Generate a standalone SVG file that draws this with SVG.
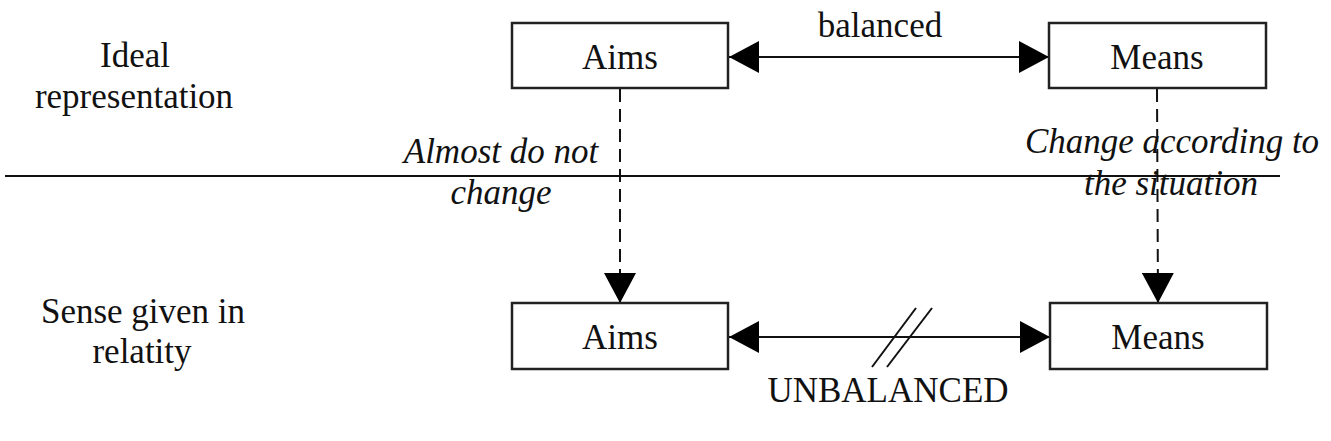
<svg xmlns="http://www.w3.org/2000/svg" width="1331" height="441" viewBox="0 0 1331 441">
<style>
.box{fill:#fff;stroke:#222;stroke-width:2.5}
.t{font-family:"Liberation Serif","Times New Roman",serif;font-size:35px;fill:#111;text-anchor:middle}
.i{font-style:italic}
.ln{stroke:#111;stroke-width:2;fill:none}
.dash{stroke:#111;stroke-width:2;fill:none;stroke-dasharray:13 7}
</style>
<defs>
<marker id="ah" markerUnits="userSpaceOnUse" markerWidth="30" markerHeight="32" refX="30" refY="16" orient="auto-start-reverse" viewBox="0 0 30 32">
<path d="M0,0 L30,16 L0,32 Z" fill="#000"/>
</marker>
</defs>
<rect width="1331" height="441" fill="#fff"/>
<g id="labels">
<text class="t" x="135" y="67">Ideal</text>
<text class="t" x="134" y="108">representation</text>
<text class="t" x="143" y="323">Sense given in</text>
<text class="t" x="142" y="363">relatity</text>
<text class="t i" x="501" y="163">Almost do not</text>
<text class="t i" x="501" y="204">change</text>
<text class="t i" x="1172" y="153">Change according to</text>
<text class="t i" x="1171" y="195">the situation</text>
<text class="t" x="880" y="37">balanced</text>
<text class="t" x="888" y="402">UNBALANCED</text>
</g>
<g id="separator">
<line class="ln" x1="5" y1="176" x2="1280" y2="176"/>
</g>
<g id="connectors">
<line class="ln" x1="729" y1="57" x2="1049" y2="57" marker-start="url(#ah)" marker-end="url(#ah)"/>
<line class="ln" x1="729" y1="337" x2="1050" y2="337" marker-start="url(#ah)" marker-end="url(#ah)"/>
<line class="ln" x1="916" y1="308" x2="872" y2="367"/>
<line class="ln" x1="932" y1="308" x2="887" y2="367"/>
<line class="dash" x1="620" y1="89" x2="620" y2="303" marker-end="url(#ah)"/>
<line class="dash" x1="1157" y1="89" x2="1158" y2="303" marker-end="url(#ah)"/>
</g>
<g id="aims-top"><rect class="box" x="512" y="23" width="216" height="65"/><text class="t" x="620" y="69">Aims</text></g>
<g id="means-top"><rect class="box" x="1049" y="23" width="217" height="65"/><text class="t" x="1157" y="69">Means</text></g>
<g id="aims-bottom"><rect class="box" x="512" y="303" width="216" height="66"/><text class="t" x="620" y="349">Aims</text></g>
<g id="means-bottom"><rect class="box" x="1050" y="303" width="217" height="66"/><text class="t" x="1158" y="349">Means</text></g>
</svg>
